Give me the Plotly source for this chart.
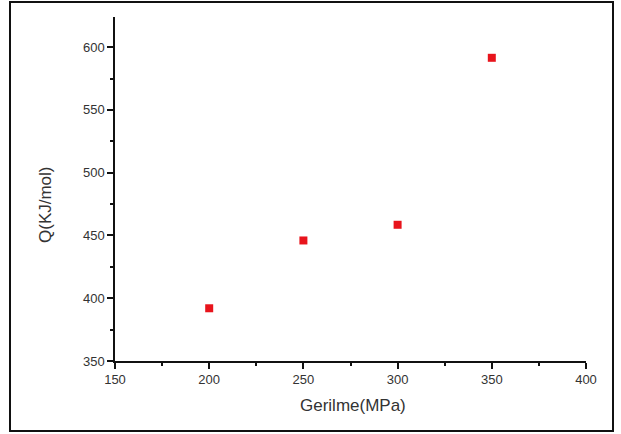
import plotly.graph_objects as go

stress = [200, 250, 300, 350]
q_values = [392, 446, 458.5, 591.5]
x_ticks = [150, 200, 250, 300, 350, 400]
y_ticks = [350, 400, 450, 500, 550, 600]
x_title = "Gerilme(MPa)"
y_title = "Q(KJ/mol)"

W, H = 621, 434
ml, mr, mt, mb = 115, 35, 17, 73
pw, ph = W - ml - mr, H - mt - mb

FONT = "Liberation Sans, Arial, sans-serif"

fig = go.Figure()
fig.add_trace(go.Scatter(
    x=stress, y=q_values, mode="markers",
    marker=dict(symbol="square", size=8, color="#e8141c", line=dict(width=0)),
    showlegend=False,
))

axis_font = dict(family=FONT, size=13, color="#333")
common = dict(
    showline=True, linecolor="#111", linewidth=1.5, mirror=False,
    ticks="outside", ticklen=6, tickwidth=1.5, tickcolor="#111",
    minor=dict(ticks="outside", ticklen=3, tickwidth=1.5, tickcolor="#111", dtick=25, showgrid=False),
    showgrid=False, zeroline=False, tickfont=axis_font,
)
fig.update_xaxes(range=[150, 400], tickvals=x_ticks, ticktext=[str(v) for v in x_ticks], **common)
fig.update_yaxes(range=[350, 624], tickvals=y_ticks, ticktext=[str(v) for v in y_ticks], **common)

def px_to_paper_x(px):
    return (px - ml) / pw

def px_to_paper_y(py):
    return (H - mb - py) / ph

title_font = dict(family=FONT, size=17, color="#333")
fig.add_annotation(text=x_title, xref="paper", yref="paper",
                   x=px_to_paper_x(353), y=px_to_paper_y(405),
                   showarrow=False, font=title_font, xanchor="center", yanchor="middle")
fig.add_annotation(text=y_title, xref="paper", yref="paper",
                   x=px_to_paper_x(45), y=px_to_paper_y(205), textangle=-90,
                   showarrow=False, font=title_font, xanchor="center", yanchor="middle")

# outer frame around the whole picture
fig.add_shape(
    type="rect", xref="paper", yref="paper",
    x0=px_to_paper_x(10), x1=px_to_paper_x(613),
    y0=px_to_paper_y(431), y1=px_to_paper_y(2),
    line=dict(color="#111", width=2), fillcolor="rgba(0,0,0,0)", layer="above",
)

fig.update_layout(
    width=W, height=H,
    margin=dict(l=ml, r=mr, t=mt, b=mb),
    paper_bgcolor="white", plot_bgcolor="white",
)

fig.write_html("out.html")
